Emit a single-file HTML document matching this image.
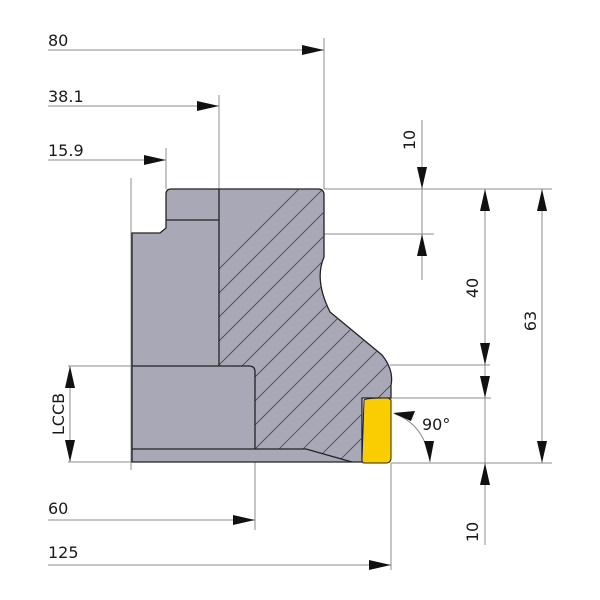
<!DOCTYPE html>
<html><head><style>body{margin:0;background:#fff}svg{display:block}</style></head><body>
<svg width="600" height="600" viewBox="0 0 600 600" xmlns="http://www.w3.org/2000/svg" font-family="DejaVu Sans, Liberation Sans, sans-serif" font-size="16" fill="#1a1a1a">
<defs>
<clipPath id="hc"><path d="M219,189 L318,189 Q324,189 324,195 L324,257 Q314,280 330,312 L382,355 Q394,370 391,385 L391,398 L362,398 L362,462 L352,462 L306,449 L255,449 L255,372 Q255,366 249,366 L219,366 Z"/></clipPath>
</defs>
<g stroke="#8c8c8c" stroke-width="1" fill="none">
<line x1="48" y1="50" x2="324" y2="50"/><line x1="324" y1="38" x2="324" y2="189"/>
<line x1="48" y1="106" x2="219" y2="106"/><line x1="219" y1="95" x2="219" y2="189"/>
<line x1="48" y1="160" x2="166" y2="160"/><line x1="166" y1="148" x2="166" y2="189"/>
<line x1="131" y1="178" x2="131" y2="470"/>
<line x1="68" y1="366" x2="254" y2="366"/><line x1="68" y1="462" x2="131" y2="462"/>
<line x1="70" y1="366" x2="70" y2="462"/>
<line x1="48" y1="520" x2="255" y2="520"/><line x1="255" y1="449" x2="255" y2="530"/>
<line x1="48" y1="565" x2="391" y2="565"/><line x1="391" y1="463" x2="391" y2="570"/>
<line x1="324" y1="189" x2="552" y2="189"/><line x1="324" y1="234" x2="434" y2="234"/>
<line x1="422" y1="120" x2="422" y2="280"/>
<line x1="390" y1="365" x2="490" y2="365"/><line x1="391" y1="398" x2="491" y2="398"/>
<line x1="391" y1="463" x2="552" y2="463"/>
<line x1="485" y1="189" x2="485" y2="545"/><line x1="542" y1="189" x2="542" y2="463"/>
<path d="M395,414 Q425,425 430,462"/>
</g>
<g fill="#111">
<path d="M324,50 l-22,-5 v10z"/><path d="M219,106 l-22,-5 v10z"/><path d="M166,160 l-22,-5 v10z"/>
<path d="M255,520 l-22,-5 v10z"/><path d="M391,565 l-22,-5 v10z"/>
<path d="M70,366 l-5,22 h10z"/><path d="M70,462 l-5,-22 h10z"/>
<path d="M422,189 l-5,-22 h10z"/><path d="M422,234 l-5,22 h10z"/>
<path d="M485,189 l-5,22 h10z"/><path d="M485,365 l-5,-22 h10z"/>
<path d="M485,398 l-5,-22 h10z"/><path d="M485,463 l-5,22 h10z"/>
<path d="M542,189 l-5,22 h10z"/><path d="M542,463 l-5,-22 h10z"/>
<path d="M393,413 l22,-2 l-4,10z"/><path d="M430,462 l-6,-21 l10,0z"/>
</g>
<path d="M132,233 L160,233 L166,228 L166,194 Q166,189 171,189 L318,189 Q324,189 324,195 L324,257 Q314,280 330,312 L382,355 Q394,370 391,385 L391,398 L362,398 L362,462 L132,462 Z" fill="#a9a8b6" stroke="#222" stroke-width="1.3"/>
<g clip-path="url(#hc)" stroke="#444" stroke-width="0.8">
<line x1="100" y1="460" x2="400" y2="160"/><line x1="124" y1="460" x2="424" y2="160"/><line x1="148" y1="460" x2="448" y2="160"/><line x1="172" y1="460" x2="472" y2="160"/><line x1="196" y1="460" x2="496" y2="160"/><line x1="220" y1="460" x2="520" y2="160"/><line x1="244" y1="460" x2="544" y2="160"/><line x1="268" y1="460" x2="568" y2="160"/><line x1="292" y1="460" x2="592" y2="160"/><line x1="316" y1="460" x2="616" y2="160"/><line x1="340" y1="460" x2="640" y2="160"/><line x1="76" y1="460" x2="376" y2="160"/><line x1="52" y1="460" x2="352" y2="160"/><line x1="28" y1="460" x2="328" y2="160"/>
</g>
<g stroke="#222" stroke-width="1.3" fill="none">
<path d="M166,220 H219 M219,189 V366 M132,366 H249 Q255,366 255,372 V449 M132,449 H306 L352,462"/>
</g>
<path d="M364,400 Q366,398 388,398 L391,400 L391,458 Q391,463 386,463 L364,463 Q362,463 362,460 Z" fill="#f9cd00" stroke="#222" stroke-width="1"/>
<text x="48" y="46">80</text>
<text x="48" y="102">38.1</text>
<text x="48" y="156">15.9</text>
<text x="48" y="514">60</text>
<text x="48" y="558">125</text>
<text x="422" y="430">90°</text>
<text transform="translate(64,414) rotate(-90)" text-anchor="middle">LCCB</text>
<text transform="translate(415,140) rotate(-90)" text-anchor="middle">10</text>
<text transform="translate(478,288) rotate(-90)" text-anchor="middle">40</text>
<text transform="translate(536,321) rotate(-90)" text-anchor="middle">63</text>
<text transform="translate(478,532) rotate(-90)" text-anchor="middle">10</text>
</svg>
</body></html>
